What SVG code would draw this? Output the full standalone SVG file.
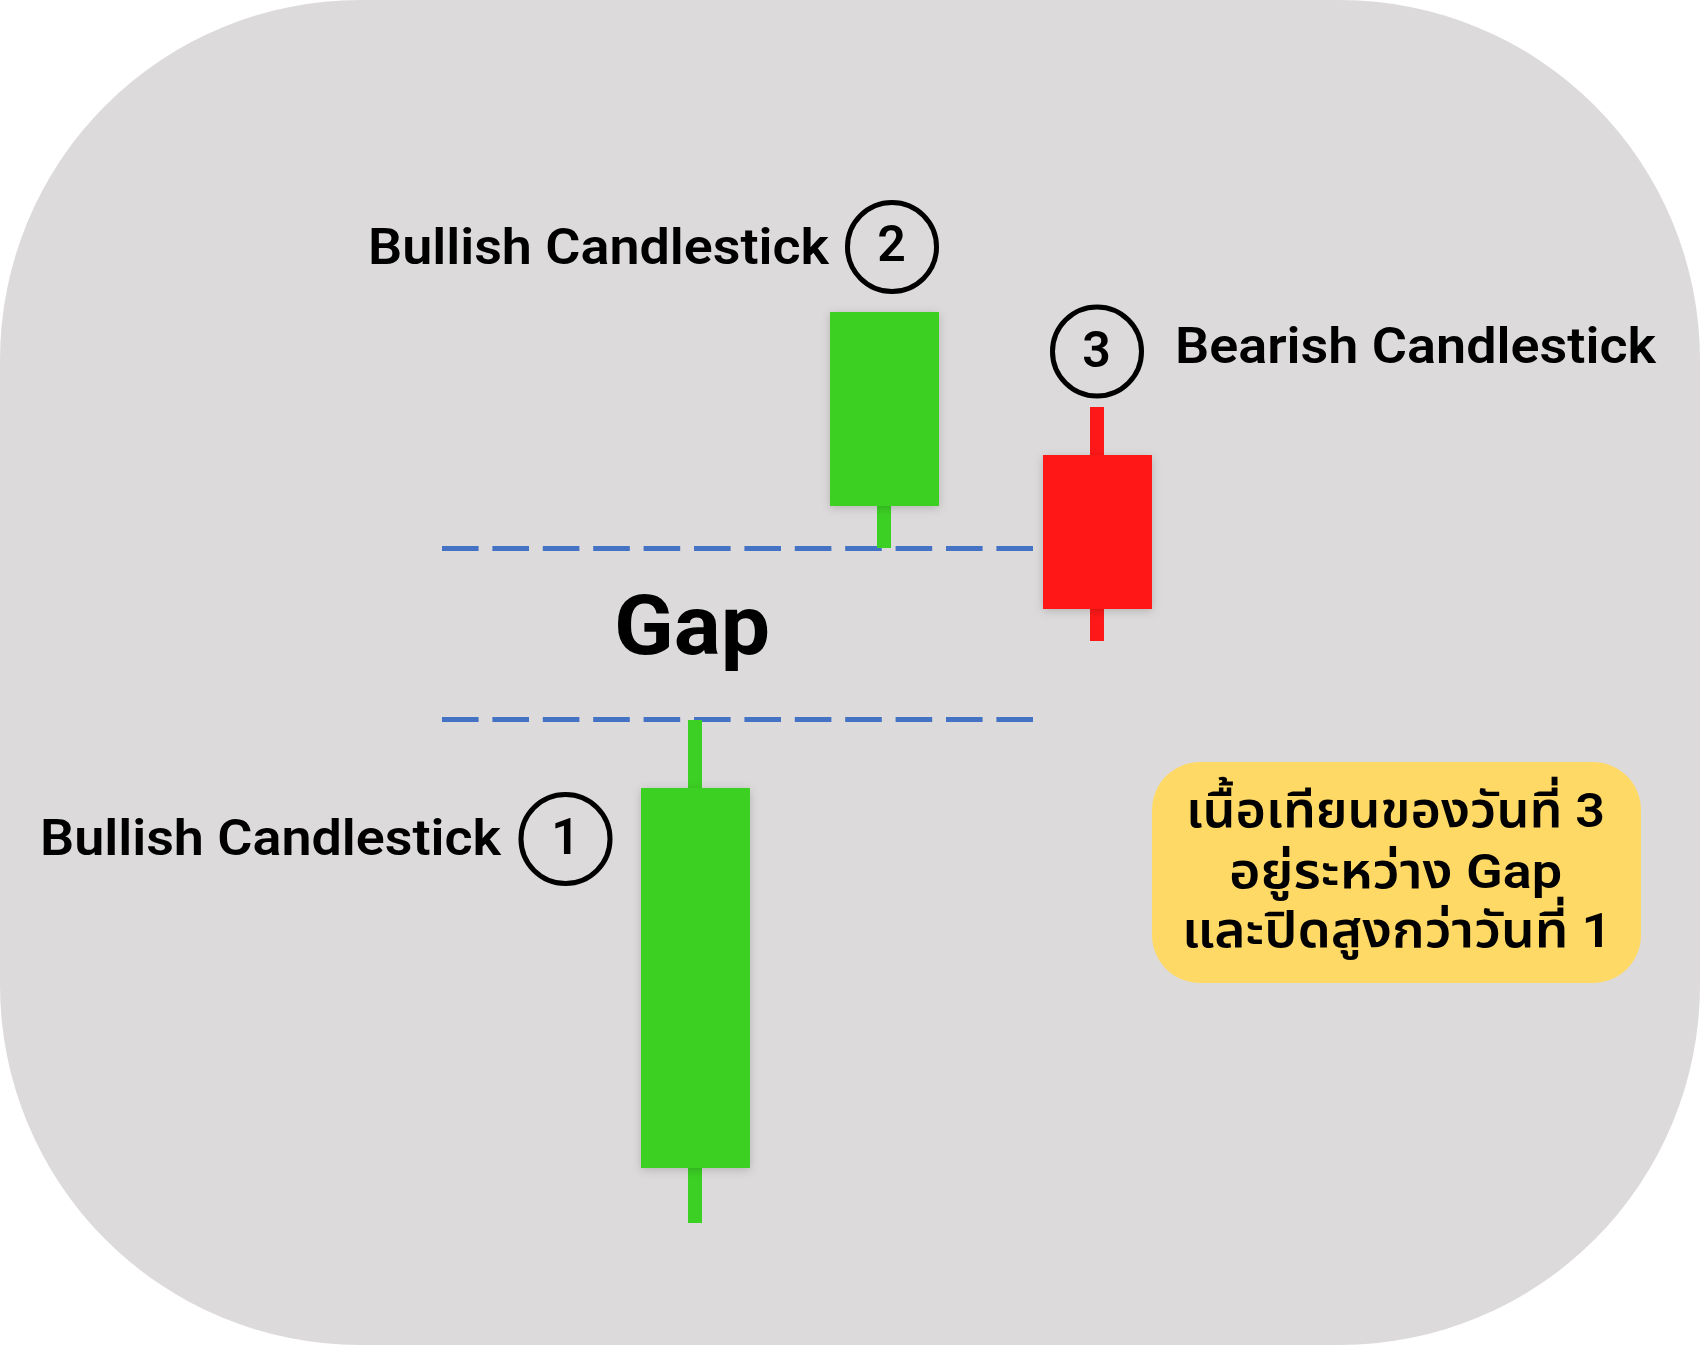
<svg xmlns="http://www.w3.org/2000/svg" width="1700" height="1345" viewBox="0 0 1700 1345">
<style>
text{font-family:Roboto,"Noto Sans Thai","Noto Sans",sans-serif;fill:#000;font-weight:600}
.l{font-size:50px}
.t{font-size:49px;font-weight:600}
.n{font-size:50px;text-anchor:middle}
.c{fill:none;stroke:#000;stroke-width:5}
.g{fill:#3BD023}
.r{fill:#FF1818}
.d{stroke:#4472C4;stroke-width:5;stroke-dasharray:36.6 13.8;fill:none}
.b{filter:url(#s)}
</style>
<defs>
<filter id="s" x="-20%" y="-20%" width="140%" height="140%"><feDropShadow dx="0" dy="2" stdDeviation="5" flood-color="#000" flood-opacity="0.18"/></filter>
</defs>
<rect id="background" width="1700" height="1345" rx="360" ry="360" fill="#DCDADB"/>
<g id="connectors">
<line class="d" x1="442" y1="548.500" x2="1034" y2="548.500"/>
<line class="d" x1="442" y1="719.500" x2="1034" y2="719.500"/>
</g>
<g id="candle-1">
<rect class="g" x="688" y="720" width="14" height="503"/>
<rect class="g b" x="641" y="788" width="109" height="380"/>
</g>
<g id="candle-2">
<rect class="g" x="877" y="500" width="14" height="48"/>
<rect class="g b" x="830" y="312" width="109" height="194"/>
</g>
<g id="candle-3">
<rect class="r" x="1090" y="407" width="14" height="234"/>
<rect class="r b" x="1043" y="455" width="109" height="154"/>
</g>
<g id="label-1">
<text class="l" x="40" y="855" textLength="461" lengthAdjust="spacingAndGlyphs">Bullish Candlestick</text>
<circle class="c" cx="565.500" cy="839" r="44.500"/>
<text class="n" x="565.500" y="854">1</text>
</g>
<g id="label-2">
<text class="l" x="368" y="264" textLength="461" lengthAdjust="spacingAndGlyphs">Bullish Candlestick</text>
<circle class="c" cx="892" cy="247" r="44.500"/>
<text class="n" x="891.500" y="261">2</text>
</g>
<g id="label-3">
<circle class="c" cx="1097" cy="351.500" r="44.500"/>
<text class="n" x="1096.500" y="367">3</text>
<text class="l" x="1175" y="363" textLength="481" lengthAdjust="spacingAndGlyphs">Bearish Candlestick</text>
</g>
<g id="gap-label">
<text x="614" y="654" font-size="84" textLength="156" lengthAdjust="spacingAndGlyphs" style="font-weight:700">Gap</text>
</g>
<g id="note">
<rect x="1152" y="762" width="489" height="221" rx="48" ry="48" fill="#FFD966"/>
<text class="t" x="1186" y="827" textLength="419" lengthAdjust="spacingAndGlyphs">เนื้อเทียนของวันที่ 3</text>
<text class="t" x="1229" y="888" textLength="333" lengthAdjust="spacingAndGlyphs">อยู่ระหว่าง Gap</text>
<text class="t" x="1182" y="947" textLength="430" lengthAdjust="spacingAndGlyphs">และปิดสูงกว่าวันที่ 1</text>
</g>
</svg>
